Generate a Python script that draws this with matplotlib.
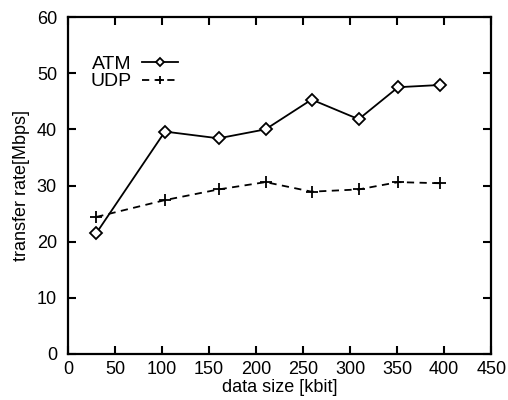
import matplotlib
matplotlib.use('Agg')
import matplotlib.pyplot as plt

# данные
data_size = [30, 103, 160, 210, 259, 309, 351, 396]
atm_rate = [21.5, 39.6, 38.4, 40.0, 45.3, 41.8, 47.5, 47.9]
udp_rate = [24.4, 27.4, 29.3, 30.6, 28.9, 29.3, 30.6, 30.4]

plt.rcParams['font.family'] = ['Liberation Sans', 'DejaVu Sans']
plt.rcParams['font.size'] = 13

fig = plt.figure(figsize=(5.08, 4.0), dpi=100)
ax = fig.add_axes([0.134, 0.115, 0.833, 0.8425])

ax.plot(data_size, atm_rate, color='black', linestyle='-', linewidth=1.3,
        marker='D', markersize=6.5, markerfacecolor='white',
        markeredgecolor='black', markeredgewidth=1.3, label='ATM')
ax.plot(data_size, udp_rate, color='black', linestyle=(0, (4, 3)), linewidth=1.3,
        marker='+', markersize=9, markeredgewidth=1.3, label='UDP')

ax.set_xlim(0, 450)
ax.set_ylim(0, 60)
ax.set_xticks(range(0, 451, 50))
ax.set_yticks(range(0, 61, 10))
ax.tick_params(direction='in', top=True, right=True, length=6, width=1.5,
               labelsize=13)
ax.tick_params(axis='x', pad=5)
ax.tick_params(axis='y', pad=8)
for sp in ax.spines.values():
    sp.set_linewidth(1.6)

ax.set_xlabel('data size [kbit]', labelpad=1)
ax.set_ylabel('transfer rate[Mbps]', labelpad=5)

ax.legend(loc='upper left', bbox_to_anchor=(0.035, 0.91), frameon=False,
          markerfirst=False, handlelength=1.9, handletextpad=0.5,
          labelspacing=0.0, borderaxespad=0, markerscale=0.7,
          fontsize=14)

plt.savefig('out.png', dpi=100)
